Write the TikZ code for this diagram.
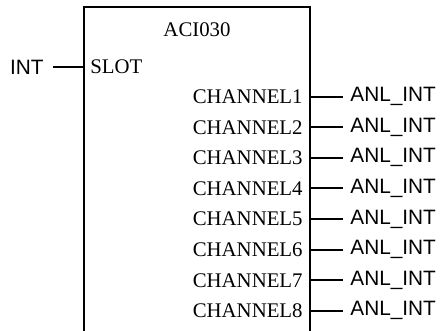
\documentclass[tikz,border=0pt]{standalone}
\usepackage{fontspec}
\setmainfont{Liberation Serif}
\newfontfamily\sigfont{Liberation Sans}
\usetikzlibrary{positioning}

\begin{document}
\begin{tikzpicture}[
    x=0.5pt, y=-0.5pt,
    pinin/.style={anchor=west, inner xsep=3pt, inner ysep=0pt, font=\fontsize{10.4}{12}\selectfont},
    pinout/.style={anchor=east, inner xsep=3.5pt, inner ysep=0pt, font=\fontsize{10.4}{12}\selectfont},
    sigin/.style={anchor=east, inner xsep=4.5pt, inner ysep=0pt, font=\sigfont\fontsize{10.4}{12}\selectfont},
    sigout/.style={anchor=west, inner xsep=3.5pt, inner ysep=0pt, font=\sigfont\fontsize{10.4}{12}\selectfont},
    wire/.style={line width=1pt}
]
\useasboundingbox (0,0) rectangle (440,331);
% function block, open at the bottom
\coordinate (blkBL) at (84,331);
\coordinate (blkTL) at (84,7);
\coordinate (blkTR) at (310,7);
\coordinate (blkBR) at (310,331);
\draw[line width=1.1pt] (blkBL) -- (blkTL) -- (blkTR) -- (blkBR);
\node[font=\fontsize{10.4}{12}\selectfont] (title) at (197,30) {ACI030};

% input
\node[pinin] (slot) at (84,67) {SLOT};
\node[sigin] (int) at (53,67) {INT};
\draw[wire] (int.east) -- (slot.west);

% outputs
\foreach \i in {1,...,8} {
    \node[pinout] (ch\i) at (310,{96.7+30.6*(\i-1)}) {CHANNEL\i};
    \node[sigout] (anl\i) at (343,{96.7+30.6*(\i-1)}) {ANL\_INT};
    \draw[wire] (ch\i.east) -- (anl\i.west);
}
\end{tikzpicture}
\end{document}
